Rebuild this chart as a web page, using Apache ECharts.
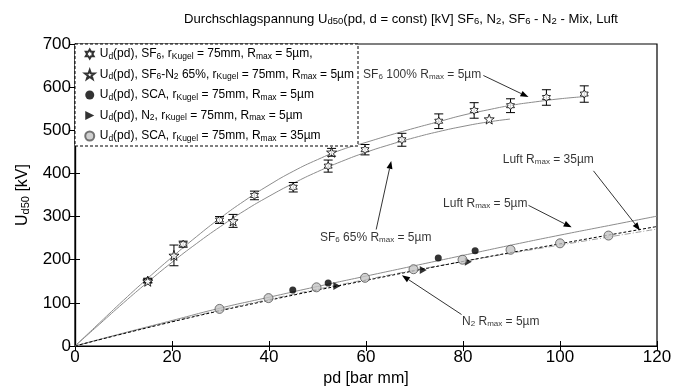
<!DOCTYPE html>
<html><head><meta charset="utf-8">
<script src="https://cdn.jsdelivr.net/npm/echarts@6/dist/echarts.min.js"></script>
<style>html,body{margin:0;padding:0;background:#fff}#c{width:685px;height:392px}</style>
</head><body><div id="c"></div>
<script>
// ---- data ----
// SF6 100% measured points [pd, U, err]
const sf6Pts = [[15,152,5],[22.3,236,7],[29.8,292,8],[37,349,10],[45,368,11],[52.2,417,14],[59.8,455,12],[67.4,478,15],[75,521,17],[82.3,546,18],[89.8,557,16],[97.2,576,18],[105,584,19]];
// SF6-N2 65% points [pd, U, err]
const mixPts = [[15,150,4],[20.4,210,24],[32.6,290,15],[52.9,449,9],[85.4,526,0]];
// SCA Rmax 5um
const sca5Pts = [[44.9,130],[52.2,146],[74.9,204],[82.5,221]];
// N2 Rmax 5um
const n2Pts = [[54,139],[71.8,176],[81.1,195]];
// SCA Rmax 35um
const sca35Pts = [[29.8,86],[39.9,111],[49.8,136],[59.8,158],[69.8,178],[79.9,200],[89.8,223],[100,238],[110,256]];
// fitted curves
const sf6Fit = [[0,0],[5,53],[10,106],[15,157],[20,206],[25,253],[30,297],[35,337],[40,373],[45,405],[50,432],[55,455],[60,472],[65,489],[70,505],[75,520],[80,535],[85,547],[90,558],[95,566],[100,573],[105,578]];
const mixFit = [[0,0],[5,50],[10,100],[15,148],[20,194],[25,237],[30,277],[35,314],[40,347],[45,377],[50,404],[55,428],[60,449],[65,467],[70,483],[75,497],[80,509],[85,519],[89.7,526]];
const luft5Fit = [[0,0],[10,30],[20,59],[30,88],[40,113],[50,138],[60,162],[70,186],[80,210],[90,234],[100,257],[110,279],[120,301]];
const n2Fit = [[0,0],[20,56],[40,106],[60,152],[80,196],[100,237],[120,277]];
const luft35Fit = [[0,0],[20,57],[40,108],[60,154],[80,196],[100,234],[120,271]];
// annotations
const annoText = ['SF{s|6} 100% R{s|max} = 5µm','SF{s|6} 65% R{s|max} = 5µm','Luft R{s|max} = 35µm','Luft R{s|max} = 5µm','N{s|2} R{s|max} = 5µm'];
const annoPos = [[59.4,629],[50.5,250],[88.2,432],[75.9,330],[79.8,57]];
// arrows: [fromX, fromY, toX, toY]
const annoArrow = [[84.2,627,93.5,577],[62.1,270,65.2,429],[106.9,406,116.5,268],[93.5,326,102.4,275],[79.7,73,67.4,164]];
const xTicks = {min:0,max:120,interval:20};
const yTicks = {min:0,max:700,interval:100};
const legendNames = ['sf6','mix','sca5','n2','sca35'];
const legendTexts = {
  sf6:'U{s|d}(pd), SF{s|6}, r{s|Kugel} = 75mm, R{s|max} = 5µm,',
  mix:'U{s|d}(pd), SF{s|6}-N{s|2} 65%, r{s|Kugel} = 75mm, R{s|max} = 5µm',
  sca5:'U{s|d}(pd), SCA, r{s|Kugel} = 75mm, R{s|max} = 5µm',
  n2:'U{s|d}(pd), N{s|2}, r{s|Kugel} = 75mm, R{s|max} = 5µm',
  sca35:'U{s|d}(pd), SCA, r{s|Kugel} = 75mm, R{s|max} = 35µm'
};

const FONT = 'Liberation Sans, Arial, sans-serif';
const subRich = {s:{fontSize:8, fontFamily:FONT, verticalAlign:'bottom', lineHeight:8, padding:[5,0,0,0], color:'#000'}};
const legRich = {s:{fontSize:8.5, fontFamily:FONT, verticalAlign:'bottom', lineHeight:8, padding:[5,0,0,0], color:'#000'}};
const hexStar = 'path://M0,-10 L3,-5 L8.7,-5 L5.8,0 L8.7,5 L3,5 L0,10 L-3,5 L-8.7,5 L-5.8,0 L-8.7,-5 L-3,-5 Z';
const star5 = 'path://M0,-10 L2.35,-3.24 L9.51,-3.09 L3.8,1.24 L5.88,8.09 L0,4 L-5.88,8.09 L-3.8,1.24 L-9.51,-3.09 L-2.35,-3.24 Z';
const triR = 'path://M0,0 L10,5 L0,10 Z';

function errSeries(pts){
  return {
    type:'custom', silent:true, z:3,
    data: pts.filter(p=>p[2]>0).map(p=>[p[0],p[1],p[2]]),
    renderItem:(params,api)=>{
      const x=api.value(0), y=api.value(1), e=api.value(2);
      const top=api.coord([x,y+e]), bot=api.coord([x,y-e]);
      const w=4.5;
      const st={stroke:'#000',lineWidth:1};
      return {type:'group',children:[
        {type:'line',shape:{x1:top[0],y1:top[1],x2:bot[0],y2:bot[1]},style:st},
        {type:'line',shape:{x1:top[0]-w,y1:top[1],x2:top[0]+w,y2:top[1]},style:st},
        {type:'line',shape:{x1:bot[0]-w,y1:bot[1],x2:bot[0]+w,y2:bot[1]},style:st}
      ]};
    }
  };
}
function lineSeries(data, color, type, width){
  return {type:'line', data, showSymbol:false, symbol:'none', smooth:true, silent:true, z:2,
    lineStyle:{color, width, type}};
}
const arrowSeries = {
  type:'custom', silent:true, z:4, clip:false,
  data: annoArrow,
  renderItem:(params,api)=>{
    const a=api.coord([api.value(0),api.value(1)]), b=api.coord([api.value(2),api.value(3)]);
    const dx=b[0]-a[0], dy=b[1]-a[1], L=Math.hypot(dx,dy), ux=dx/L, uy=dy/L;
    const hl=8, hw=3;
    const bx=b[0]-ux*hl, by=b[1]-uy*hl;
    return {type:'group',children:[
      {type:'line',shape:{x1:a[0],y1:a[1],x2:bx,y2:by},style:{stroke:'#000',lineWidth:0.8}},
      {type:'polygon',shape:{points:[[b[0],b[1]],[bx-uy*hw,by+ux*hw],[bx+uy*hw,by-ux*hw]]},style:{fill:'#000'}}
    ]};
  }
};

const chart = echarts.init(document.getElementById('c'), null, {renderer:'canvas'});
chart.setOption({
  animation:false,
  backgroundColor:'#fff',
  title:{
    text:'Durchschlagspannung U{s|d50}(pd, d = const) [kV] SF{s|6}, N{s|2}, SF{s|6} - N{s|2} - Mix, Luft',
    left:396, top:8, textAlign:'center',
    textStyle:{fontSize:13.1, fontWeight:'normal', fontFamily:FONT, color:'#000',
      rich:{s:{fontSize:9.5, fontFamily:FONT, verticalAlign:'bottom', lineHeight:9, padding:[5,0,0,0], color:'#000'}}}
  },
  grid:{left:75, right:28, top:44, bottom:40, show:true, borderColor:'#000', borderWidth:1.2},
  legend:{
    orient:'vertical', left:84, top:47, itemGap:6.5, itemWidth:10, itemHeight:9, z:10,
    data:legendNames, padding:0,
    formatter:(n)=>legendTexts[n],
    textStyle:{fontSize:12, fontFamily:FONT, color:'#000', lineHeight:14, rich:legRich},
    selectedMode:false
  },
  xAxis:[{
    type:'value', min:xTicks.min, max:xTicks.max, interval:xTicks.interval,
    name:'pd [bar mm]', nameLocation:'middle', nameGap:25,
    nameTextStyle:{fontSize:16, fontFamily:FONT, color:'#000'},
    axisLine:{show:true, lineStyle:{color:'#000', width:1.2}},
    axisTick:{show:true, inside:true, length:5, lineStyle:{color:'#000'}},
    axisLabel:{fontSize:17, fontFamily:FONT, color:'#000', margin:3},
    splitLine:{show:false}
  },{
    type:'value', position:'top', min:xTicks.min, max:xTicks.max, interval:xTicks.interval,
    axisLine:{show:true, lineStyle:{color:'#000', width:1.2}},
    axisTick:{show:true, inside:true, length:5, lineStyle:{color:'#000'}},
    axisLabel:{show:false}, splitLine:{show:false}
  }],
  yAxis:[{
    type:'value', min:yTicks.min, max:yTicks.max, interval:yTicks.interval,
    name:'U{s|d50} [kV]', nameLocation:'middle', nameGap:44,
    nameTextStyle:{fontSize:16, fontFamily:FONT, color:'#000', rich:{s:{fontSize:11, fontFamily:FONT, verticalAlign:'bottom', lineHeight:11, padding:[6,0,0,0], color:'#000'}}},
    axisLine:{show:true, lineStyle:{color:'#000', width:1.2}},
    axisTick:{show:true, inside:true, length:5, lineStyle:{color:'#000'}},
    axisLabel:{fontSize:17, fontFamily:FONT, color:'#000', margin:4},
    splitLine:{show:false}
  },{
    type:'value', position:'right', min:yTicks.min, max:yTicks.max, interval:yTicks.interval,
    axisLine:{show:true, lineStyle:{color:'#000', width:1.2}},
    axisTick:{show:true, inside:true, length:5, lineStyle:{color:'#000'}},
    axisLabel:{show:false}, splitLine:{show:false}
  }],
  graphic:[{
    type:'rect', shape:{x:75, y:44, width:283, height:102}, z:3,
    style:{fill:'#fff', stroke:'#000', lineWidth:1, lineDash:[3,2]}
  }],
  series:[
    lineSeries(sf6Fit,'#8c8c8c','solid',1),
    lineSeries(mixFit,'#8c8c8c','solid',1),
    lineSeries(luft5Fit,'#8c8c8c','solid',1),
    lineSeries(luft35Fit,'#a0a0a0',[6,2,1,2],1),
    lineSeries(n2Fit,'#000',[3,2],1),
    errSeries(sf6Pts),
    errSeries(mixPts),
    {name:'sf6', type:'scatter', z:4, symbol:hexStar, symbolSize:8, data:sf6Pts.map(p=>[p[0],p[1]]),
      itemStyle:{color:'#fff', borderColor:'#000', borderWidth:1}},
    {name:'mix', type:'scatter', z:4, symbol:star5, symbolSize:10, data:mixPts.map(p=>[p[0],p[1]]),
      itemStyle:{color:'#fff', borderColor:'#000', borderWidth:1}},
    {name:'sca5', type:'scatter', z:4, symbol:'circle', symbolSize:7, data:sca5Pts,
      itemStyle:{color:'#000'}},
    {name:'n2', type:'scatter', z:4, symbol:triR, symbolSize:[7,8], data:n2Pts,
      itemStyle:{color:'#000'}},
    {name:'sca35', type:'scatter', z:4, symbol:'circle', symbolSize:9, data:sca35Pts,
      itemStyle:{color:'#c4c4c4', borderColor:'#555', borderWidth:1}},
    arrowSeries,
    {type:'scatter', z:4, silent:true, symbolSize:0,
      data:annoPos.map((p,i)=>({value:p, label:{formatter:annoText[i]}})),
      label:{show:true, position:'right', distance:0, fontSize:12, fontFamily:FONT, color:'#000', rich:subRich}}
  ]
});
</script></body></html>
